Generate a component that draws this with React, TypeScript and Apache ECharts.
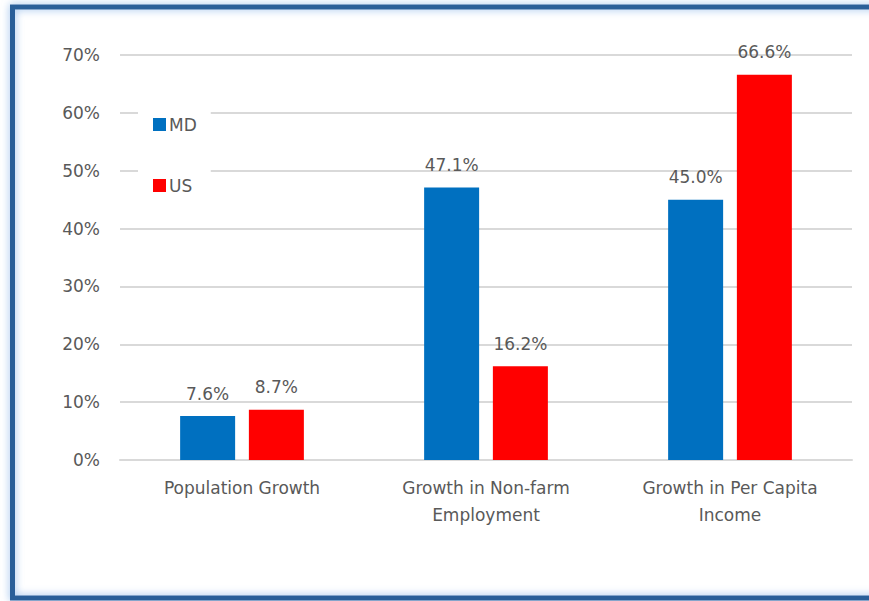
import React, { useEffect, useRef } from "react";
import * as echarts from "echarts";

const categories = ["Population Growth", "Growth in Non-farm\nEmployment", "Growth in Per Capita\nIncome"];
const mdValues = [7.6, 47.1, 45.0];
const usValues = [8.7, 16.2, 66.6];
const seriesNames = ["MD", "US"];

export default function App() {
  const ref = useRef<HTMLDivElement>(null);
  useEffect(() => {
    document.body.style.margin = "0";
    const chart = echarts.init(ref.current!, null, { renderer: "svg" });
    const font = "'DejaVu Sans', sans-serif";
    const labelStyle = {
      show: true,
      position: "top" as const,
      distance: 14,
      color: "#595959",
      fontSize: 17,
      fontFamily: font,
      formatter: (p: any) => p.value.toFixed(1) + "%",
    };
    chart.setOption({
      animation: false,
      backgroundColor: "#ffffff",
      graphic: [
        {
          type: "rect",
          shape: { x: 12.5, y: 7, width: 900, height: 591 },
          style: {
            fill: "none",
            stroke: "#2a5f99",
            lineWidth: 5,
            shadowBlur: 8,
            shadowColor: "rgba(120,170,230,0.8)",
          },
          z: 100,
        },
      ],
      grid: { left: 120, right: 17, top: 55, bottom: 141, containLabel: false },
      legend: {
        orient: "vertical",
        left: 138,
        top: 102,
        padding: [14, 14, 14, 15],
        backgroundColor: "#ffffff",
        itemWidth: 13,
        itemHeight: 13,
        itemGap: 44,
        icon: "rect",
        textStyle: { color: "#595959", fontSize: 17, fontFamily: font, padding: [0, 0, 0, -2] },
        data: seriesNames,
        z: 10,
      },
      xAxis: {
        type: "category",
        data: categories,
        axisTick: { show: false },
        axisLine: { lineStyle: { color: "#d9d9d9", width: 2 } },
        axisLabel: {
          color: "#595959",
          fontSize: 17,
          fontFamily: font,
          margin: 14,
          lineHeight: 27,
          interval: 0,
        },
      },
      yAxis: {
        type: "value",
        min: 0,
        max: 70,
        interval: 10,
        axisLine: { show: false },
        axisTick: { show: false },
        splitLine: { lineStyle: { color: "#d9d9d9", width: 2 } },
        axisLabel: {
          color: "#595959",
          fontSize: 17,
          fontFamily: font,
          margin: 20,
          formatter: "{value}%",
        },
      },
      series: [
        {
          name: seriesNames[0],
          type: "bar",
          data: mdValues,
          barWidth: 55,
          barGap: "25%",
          itemStyle: { color: "#0070c0" },
          label: labelStyle,
        },
        {
          name: seriesNames[1],
          type: "bar",
          data: usValues,
          barWidth: 55,
          itemStyle: { color: "#ff0000" },
          label: labelStyle,
        },
      ],
    });
    return () => chart.dispose();
  }, []);
  return <div ref={ref} style={{ width: 869, height: 601 }} />;
}
